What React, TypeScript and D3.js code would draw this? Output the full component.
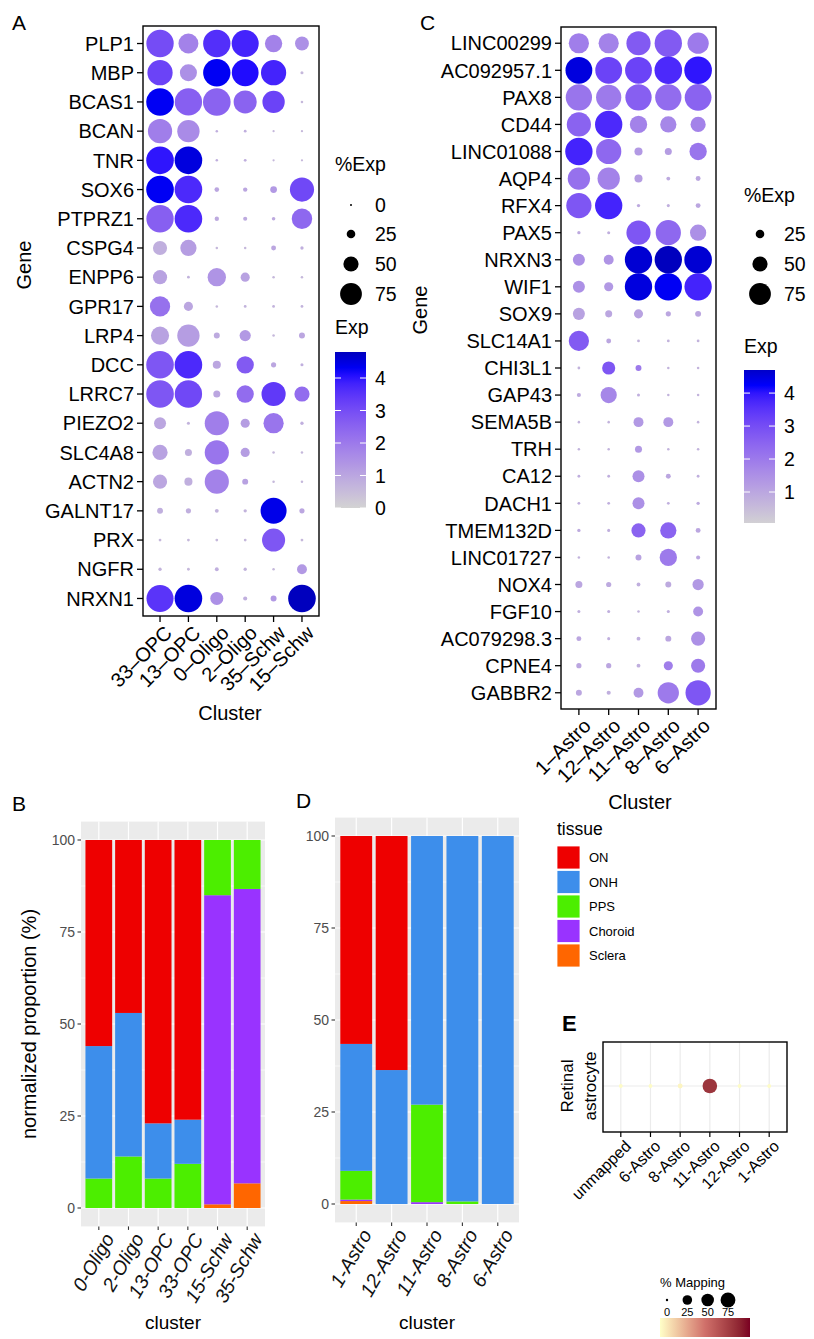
import React from "react";
import * as d3 from "d3";

const FONT = "'Liberation Sans', Arial, Helvetica, sans-serif";

// ---------- panel A: dot plot ----------
const clustersA = ["33–OPC", "13–OPC", "0–Oligo", "2–Oligo", "35–Schw", "15–Schw"];
const genesA = ["PLP1", "MBP", "BCAS1", "BCAN", "TNR", "SOX6", "PTPRZ1", "CSPG4", "ENPP6", "GPR17",
  "LRP4", "DCC", "LRRC7", "PIEZO2", "SLC4A8", "ACTN2", "GALNT17", "PRX", "NGFR", "NRXN1"];
// % of cells expressing, one row per gene, columns follow clustersA
const pctA = [
  [96, 68, 96, 95, 58, 45],
  [88, 57, 96, 94, 88, 4],
  [97, 96, 97, 80, 77, 2],
  [84, 77, 2, 3, 1, 1],
  [97, 97, 2, 3, 1, 1],
  [97, 97, 10, 9, 18, 84],
  [96, 97, 9, 8, 6, 70],
  [46, 54, 2, 2, 11, 5],
  [46, 3, 62, 27, 2, 2],
  [69, 27, 2, 3, 3, 3],
  [61, 77, 15, 35, 2, 15],
  [97, 97, 23, 58, 12, 4],
  [97, 96, 19, 58, 84, 50],
  [38, 4, 84, 27, 69, 5],
  [50, 19, 84, 27, 2, 2],
  [46, 23, 84, 15, 2, 2],
  [15, 12, 7, 5, 91, 12],
  [3, 3, 3, 3, 80, 3],
  [5, 3, 7, 5, 2, 30],
  [95, 97, 42, 8, 15, 97],
];
// average expression
const expA = [
  [3.0, 1.8, 3.6, 3.8, 1.8, 1.5],
  [3.2, 1.5, 4.3, 4.1, 3.8, 0.6],
  [4.3, 2.6, 2.5, 2.5, 3.2, 0.6],
  [1.9, 1.6, 0.8, 0.8, 0.6, 0.6],
  [4.0, 4.5, 0.8, 0.8, 0.6, 0.6],
  [4.3, 3.7, 1.0, 1.0, 1.3, 3.1],
  [2.6, 3.7, 0.9, 0.9, 0.9, 2.4],
  [0.8, 1.2, 0.6, 0.6, 1.0, 0.8],
  [1.1, 0.7, 1.4, 1.1, 0.6, 0.6],
  [2.2, 1.0, 0.6, 0.7, 0.7, 0.7],
  [1.1, 1.2, 0.9, 1.3, 0.6, 1.0],
  [2.8, 3.7, 1.0, 2.7, 1.0, 0.8],
  [2.8, 3.1, 1.0, 2.3, 3.4, 2.3],
  [1.0, 0.7, 1.9, 1.2, 2.1, 0.8],
  [1.1, 0.8, 2.1, 1.2, 0.6, 0.6],
  [1.0, 0.8, 1.8, 1.1, 0.6, 0.6],
  [0.8, 0.8, 0.7, 0.7, 4.4, 1.0],
  [0.6, 0.6, 0.6, 0.6, 2.8, 0.6],
  [0.7, 0.6, 0.8, 0.7, 0.6, 1.3],
  [3.5, 4.5, 1.5, 0.8, 1.3, 4.8],
];

// ---------- panel C: dot plot ----------
const clustersC = ["1–Astro", "12–Astro", "11–Astro", "8–Astro", "6–Astro"];
const genesC = ["LINC00299", "AC092957.1", "PAX8", "CD44", "LINC01088", "AQP4", "RFX4", "PAX5", "NRXN3",
  "WIF1", "SOX9", "SLC14A1", "CHI3L1", "GAP43", "SEMA5B", "TRH", "CA12", "DACH1", "TMEM132D", "LINC01727",
  "NOX4", "FGF10", "AC079298.3", "CPNE4", "GABBR2"];
const pctC = [
  [69, 69, 84, 96, 73],
  [94, 94, 94, 97, 97],
  [92, 88, 92, 92, 94],
  [84, 96, 58, 54, 50],
  [96, 88, 23, 19, 58],
  [77, 77, 23, 7, 11],
  [88, 96, 5, 4, 11],
  [5, 4, 84, 88, 54],
  [38, 30, 96, 96, 97],
  [38, 27, 96, 96, 96],
  [38, 19, 27, 12, 15],
  [69, 11, 3, 3, 3],
  [3, 42, 15, 2, 2],
  [8, 54, 4, 2, 2],
  [2, 2, 30, 30, 2],
  [2, 2, 19, 2, 2],
  [3, 3, 38, 11, 3],
  [3, 3, 38, 3, 5],
  [5, 4, 46, 54, 11],
  [2, 2, 15, 58, 8],
  [19, 12, 7, 15, 35],
  [4, 4, 2, 4, 30],
  [11, 4, 7, 15, 46],
  [12, 12, 7, 27, 46],
  [15, 8, 30, 73, 88],
];
const expC = [
  [1.9, 1.8, 2.7, 2.7, 2.0],
  [4.5, 3.2, 3.2, 3.7, 4.0],
  [2.1, 2.0, 2.6, 2.3, 2.5],
  [2.5, 3.7, 1.8, 1.7, 1.8],
  [3.8, 2.4, 1.3, 1.2, 2.1],
  [2.2, 1.8, 1.2, 0.9, 1.0],
  [2.8, 3.8, 0.9, 0.8, 1.0],
  [0.9, 0.8, 2.8, 2.4, 1.5],
  [1.5, 1.4, 4.6, 4.8, 4.6],
  [1.5, 1.3, 4.5, 4.3, 3.8],
  [1.1, 1.0, 1.1, 1.0, 1.0],
  [2.7, 1.0, 0.7, 0.7, 0.7],
  [0.7, 2.8, 2.0, 0.7, 0.7],
  [0.9, 1.7, 0.8, 0.7, 0.7],
  [0.7, 0.7, 1.3, 1.3, 0.7],
  [0.7, 0.7, 1.3, 0.7, 0.7],
  [0.8, 0.8, 1.5, 1.0, 0.8],
  [0.8, 0.8, 1.5, 0.8, 0.9],
  [0.9, 0.8, 2.5, 2.5, 1.0],
  [0.7, 0.7, 1.1, 2.0, 1.0],
  [1.0, 0.9, 0.8, 0.9, 1.3],
  [0.8, 0.8, 0.7, 0.8, 1.4],
  [1.0, 0.8, 0.8, 1.0, 1.5],
  [1.0, 1.0, 0.8, 1.9, 2.0],
  [1.0, 0.8, 1.3, 2.0, 2.8],
];

// ---------- panels B / D: tissue composition ----------
const tissues = ["ON", "ONH", "PPS", "Choroid", "Sclera"];
const tissueColors = ["#EE0000", "#3D8EEB", "#4CEE00", "#9933FF", "#FF6600"];
const clustersB = ["0-Oligo", "2-Oligo", "13-OPC", "33-OPC", "15-Schw", "35-Schw"];
// columns follow tissues
const propB = [
  [56, 36, 8, 0, 0],
  [47, 39, 14, 0, 0],
  [77, 15, 8, 0, 0],
  [76, 12, 12, 0, 0],
  [0, 0, 15, 84, 1],
  [0, 0, 13.3, 80, 6.7],
];
const clustersD = ["1-Astro", "12-Astro", "11-Astro", "8-Astro", "6-Astro"];
const propD = [
  [56.5, 34.5, 7.8, 0.4, 0.8],
  [63.6, 36.4, 0, 0, 0],
  [0, 73, 26.5, 0.5, 0],
  [0, 99.3, 0.7, 0, 0],
  [0, 100, 0, 0, 0],
];
const propTicks = [0, 25, 50, 75, 100];

// ---------- panel E: mapping ----------
const clustersE = ["unmapped", "6-Astro", "8-Astro", "11-Astro", "12-Astro", "1-Astro"];
const mappingE = [1, 1, 3, 72, 1, 1];
const mappingLegend = [0, 25, 50, 75];

const sizeScale = d3.scaleLinear().domain([0, 100]).range([1, 14.2]);
const expColor = d3
  .scaleLinear<string>()
  .domain([0, 4.2, 4.8])
  .range(["#D3D3D3", "#0000FF", "#0000BE"])
  .interpolate(d3.interpolateLab);
const mapColor = d3
  .scaleLinear<string>()
  .domain([0, 45, 90])
  .range(["#FFFFC8", "#D0706A", "#7A0022"])
  .interpolate(d3.interpolateLab);
const mapSize = d3.scaleSqrt().domain([0, 90]).range([1.2, 8]);

type Box = { x0: number; x1: number; y0: number; y1: number };

const DOT_FS = 20;

function DotPanel(props: {
  genes: string[]; clusters: string[]; pct: number[][]; exp: number[][]; box: Box;
  gene: [number, number]; cluster: [number, number];
}) {
  const { genes, clusters, pct, exp, box } = props;
  const x = d3.scalePoint<string>().domain(clusters).range([box.x0, box.x1]).padding(0.6);
  const y = d3.scalePoint<string>().domain(genes).range([box.y0, box.y1]).padding(0.6);
  return (
    <g fontFamily={FONT}>
      {genes.map((g, i) =>
        clusters.map((c, j) => (
          <circle key={g + c} cx={x(c)} cy={y(g)} r={sizeScale(pct[i][j])} fill={expColor(exp[i][j])} />
        ))
      )}
      <rect x={box.x0} y={box.y0} width={box.x1 - box.x0} height={box.y1 - box.y0} fill="none" stroke="#000" strokeWidth={1.4} />
      {genes.map((g) => (
        <g key={g}>
          <line x1={box.x0 - 6} x2={box.x0} y1={y(g)} y2={y(g)} stroke="#000" strokeWidth={1.3} />
          <text x={box.x0 - 9} y={y(g)} dy="0.36em" textAnchor="end" fontSize={DOT_FS}>{g}</text>
        </g>
      ))}
      {clusters.map((c) => (
        <g key={c}>
          <line x1={x(c)} x2={x(c)} y1={box.y1} y2={box.y1 + 6} stroke="#000" strokeWidth={1.3} />
          <text transform={`translate(${(x(c) as number) + 3},${box.y1 + 8}) rotate(-45)`} dy="0.72em" textAnchor="end" fontSize={DOT_FS}>{c}</text>
        </g>
      ))}
      <text transform={`translate(${props.gene[0]},${props.gene[1]}) rotate(-90)`} textAnchor="middle" dy="0.36em" fontSize={DOT_FS}>Gene</text>
      <text x={props.cluster[0]} y={props.cluster[1]} textAnchor="middle" dy="0.36em" fontSize={DOT_FS}>Cluster</text>
    </g>
  );
}

function DotLegend(props: { x: number; titleY: number; values: number[]; ys: number[];
  barTop: number; barBottom: number; barMin: number; barMax: number; ticks: number[]; id: string; expY: number }) {
  const { x, values, ys } = props;
  const cy = d3.scaleLinear().domain([props.barMin, props.barMax]).range([props.barBottom, props.barTop]);
  const stops = d3.range(0, 1.0001, 0.05);
  return (
    <g fontFamily={FONT} fontSize={19.5}>
      <text x={x} y={props.titleY}>%Exp</text>
      {values.map((v, i) => (
        <g key={v}>
          <circle cx={x + 16} cy={ys[i]} r={sizeScale(v)} fill="#000" />
          <text x={x + 40} y={ys[i]} dy="0.36em">{v}</text>
        </g>
      ))}
      <text x={x} y={props.expY}>Exp</text>
      <defs>
        <linearGradient id={props.id} x1="0" y1="1" x2="0" y2="0">
          {stops.map((t) => (
            <stop key={t} offset={t} stopColor={expColor(props.barMin + t * (props.barMax - props.barMin))} />
          ))}
        </linearGradient>
      </defs>
      <rect x={x} y={props.barTop} width={31} height={props.barBottom - props.barTop} fill={`url(#${props.id})`} />
      {props.ticks.map((t) => (
        <g key={t}>
          <line x1={x} x2={x + 6} y1={cy(t)} y2={cy(t)} stroke="#fff" strokeWidth={1} />
          <line x1={x + 25} x2={x + 31} y1={cy(t)} y2={cy(t)} stroke="#fff" strokeWidth={1} />
          <text x={x + 40} y={cy(t)} dy="0.36em">{t}</text>
        </g>
      ))}
    </g>
  );
}

function BarPanel(props: { clusters: string[]; prop: number[][]; box: Box; yTitle: boolean }) {
  const { clusters, prop, box } = props;
  const x = d3.scaleBand<string>().domain(clusters).range([box.x0, box.x1]).paddingInner(0.1).paddingOuter(0.15);
  const y = d3.scaleLinear().domain([-5, 105]).range([box.y1, box.y0]);
  const rows = clusters.map((c, i) => {
    const o: any = { cluster: c };
    tissues.forEach((t, k) => (o[t] = prop[i][k]));
    return o;
  });
  const keys = [...tissues].reverse();
  const series = d3.stack<any>().keys(keys)(rows);
  const minor = [12.5, 37.5, 62.5, 87.5];
  return (
    <g fontFamily={FONT}>
      <rect x={box.x0} y={box.y0} width={box.x1 - box.x0} height={box.y1 - box.y0} fill="#EBEBEB" />
      {minor.map((m) => (
        <line key={m} x1={box.x0} x2={box.x1} y1={y(m)} y2={y(m)} stroke="#fff" strokeWidth={0.6} />
      ))}
      {propTicks.map((m) => (
        <line key={m} x1={box.x0} x2={box.x1} y1={y(m)} y2={y(m)} stroke="#fff" strokeWidth={1.2} />
      ))}
      {clusters.map((c) => (
        <line key={c} x1={(x(c) as number) + x.bandwidth() / 2} x2={(x(c) as number) + x.bandwidth() / 2} y1={box.y0} y2={box.y1} stroke="#fff" strokeWidth={1.2} />
      ))}
      {series.map((s) => {
        const color = tissueColors[tissues.indexOf(s.key)];
        return s.map((d, i) =>
          d[1] - d[0] > 0 ? (
            <rect key={s.key + i} x={x(clusters[i])} width={x.bandwidth()} y={y(d[1])} height={y(d[0]) - y(d[1])} fill={color} />
          ) : null
        );
      })}
      {propTicks.map((t) => (
        <g key={t}>
          <line x1={box.x0 - 3.5} x2={box.x0} y1={y(t)} y2={y(t)} stroke="#333" strokeWidth={1.1} />
          <text x={box.x0 - 6} y={y(t)} dy="0.36em" textAnchor="end" fontSize={14} fill="#4D4D4D">{t}</text>
        </g>
      ))}
      {clusters.map((c) => {
        const cx = (x(c) as number) + x.bandwidth() / 2;
        return (
          <g key={c}>
            <line x1={cx} x2={cx} y1={box.y1} y2={box.y1 + 3.5} stroke="#333" strokeWidth={1.1} />
            <text transform={`translate(${cx + 4},${box.y1 + 5}) rotate(-60)`} dy="0.72em" textAnchor="end" fontSize={19.5} fontStyle="italic" fill="#111">{c}</text>
          </g>
        );
      })}
      <text x={(box.x0 + box.x1) / 2} y={1322} dy="0.36em" textAnchor="middle" fontSize={19}>cluster</text>
      {props.yTitle && (
        <text transform={`translate(29,${(box.y0 + box.y1) / 2}) rotate(-90)`} dy="0.36em" textAnchor="middle" fontSize={20}>normalized proportion (%)</text>
      )}
    </g>
  );
}

function TissueLegend() {
  return (
    <g fontFamily={FONT}>
      <text x={557} y={835} fontSize={17.5}>tissue</text>
      {tissues.map((t, i) => (
        <g key={t}>
          <rect x={557} y={846 + i * 24.5} width={23} height={23} fill={tissueColors[i]} stroke="#fff" strokeWidth={0.8} />
          <text x={589} y={846 + i * 24.5 + 11.5} dy="0.36em" fontSize={13}>{t}</text>
        </g>
      ))}
    </g>
  );
}

function MappingPanel() {
  const box: Box = { x0: 603, x1: 787, y0: 1042, y1: 1132 };
  const x = d3.scalePoint<string>().domain(clustersE).range([box.x0, box.x1]).padding(0.6);
  const cy = (box.y0 + box.y1) / 2 - 1;
  const lx = d3.scalePoint<number>().domain(mappingLegend).range([667, 728]);
  const stops = d3.range(0, 1.0001, 0.1);
  return (
    <g fontFamily={FONT}>
      <text x={562} y={1031} fontSize={22} fontWeight="bold">E</text>
      {clustersE.map((c) => (
        <line key={c} x1={x(c)} x2={x(c)} y1={box.y0} y2={box.y1} stroke="#EBEBEB" strokeWidth={1.2} />
      ))}
      <line x1={box.x0} x2={box.x1} y1={cy} y2={cy} stroke="#EBEBEB" strokeWidth={1.2} />
      {clustersE.map((c, i) => (
        <circle key={c} cx={x(c)} cy={cy} r={mapSize(mappingE[i])} fill={mapColor(mappingE[i])} />
      ))}
      <rect x={box.x0} y={box.y0} width={box.x1 - box.x0} height={box.y1 - box.y0} fill="none" stroke="#000" strokeWidth={1.4} />
      {clustersE.map((c) => (
        <g key={c}>
          <line x1={x(c)} x2={x(c)} y1={box.y1} y2={box.y1 + 5} stroke="#000" strokeWidth={1.2} />
          <text transform={`translate(${(x(c) as number) + 3},${box.y1 + 7}) rotate(-45)`} dy="0.72em" textAnchor="end" fontSize={16}>{c}</text>
        </g>
      ))}
      <text transform={`translate(567,${cy}) rotate(-90)`} dy="0.36em" textAnchor="middle" fontSize={17}>Retinal</text>
      <text transform={`translate(590,${cy}) rotate(-90)`} dy="0.36em" textAnchor="middle" fontSize={17}>astrocyte</text>
      <text x={660} y={1287} fontSize={13}>% Mapping</text>
      {mappingLegend.map((v) => (
        <g key={v}>
          <circle cx={lx(v)} cy={1300} r={mapSize(v)} fill="#000" />
          <text x={lx(v)} y={1312} dy="0.36em" textAnchor="middle" fontSize={11}>{v}</text>
        </g>
      ))}
      <defs>
        <linearGradient id="mapGrad" x1="0" y1="0" x2="1" y2="0">
          {stops.map((t) => (
            <stop key={t} offset={t} stopColor={mapColor(t * 90)} />
          ))}
        </linearGradient>
      </defs>
      <rect x={660} y={1318} width={90} height={19} fill="url(#mapGrad)" />
    </g>
  );
}

export default function App() {
  return (
    <svg width={814} height={1339} style={{ position: "absolute", left: 0, top: 0, background: "#fff" }}>
      <g fontFamily={FONT} fontSize={21}>
        <text x={12} y={30}>A</text>
        <text x={420} y={30}>C</text>
        <text x={12} y={811}>B</text>
        <text x={296} y={808}>D</text>
      </g>
      <DotPanel genes={genesA} clusters={clustersA} pct={pctA} exp={expA}
        box={{ x0: 143, x1: 319, y0: 26, y1: 616 }} gene={[24, 265]} cluster={[230, 713]} />
      <DotLegend x={335} titleY={171} values={[0, 25, 50, 75]} ys={[205, 234, 264, 294]}
        barTop={352} barBottom={508} barMin={0} barMax={4.8} ticks={[0, 1, 2, 3, 4]} id="gradA" expY={334} />
      <DotPanel genes={genesC} clusters={clustersC} pct={pctC} exp={expC}
        box={{ x0: 561, x1: 716, y0: 27, y1: 709 }} gene={[420, 310]} cluster={[640, 802]} />
      <DotLegend x={744} titleY={202} values={[25, 50, 75]} ys={[234, 264, 294]}
        barTop={370} barBottom={523} barMin={0.06} barMax={4.7} ticks={[1, 2, 3, 4]} id="gradC" expY={353} />
      <BarPanel clusters={clustersB} prop={propB} box={{ x0: 81, x1: 265, y0: 821.6, y1: 1226.4 }} yTitle={true} />
      <BarPanel clusters={clustersD} prop={propD} box={{ x0: 335, x1: 519, y0: 817.6, y1: 1222.4 }} yTitle={false} />
      <TissueLegend />
      <MappingPanel />
    </svg>
  );
}
